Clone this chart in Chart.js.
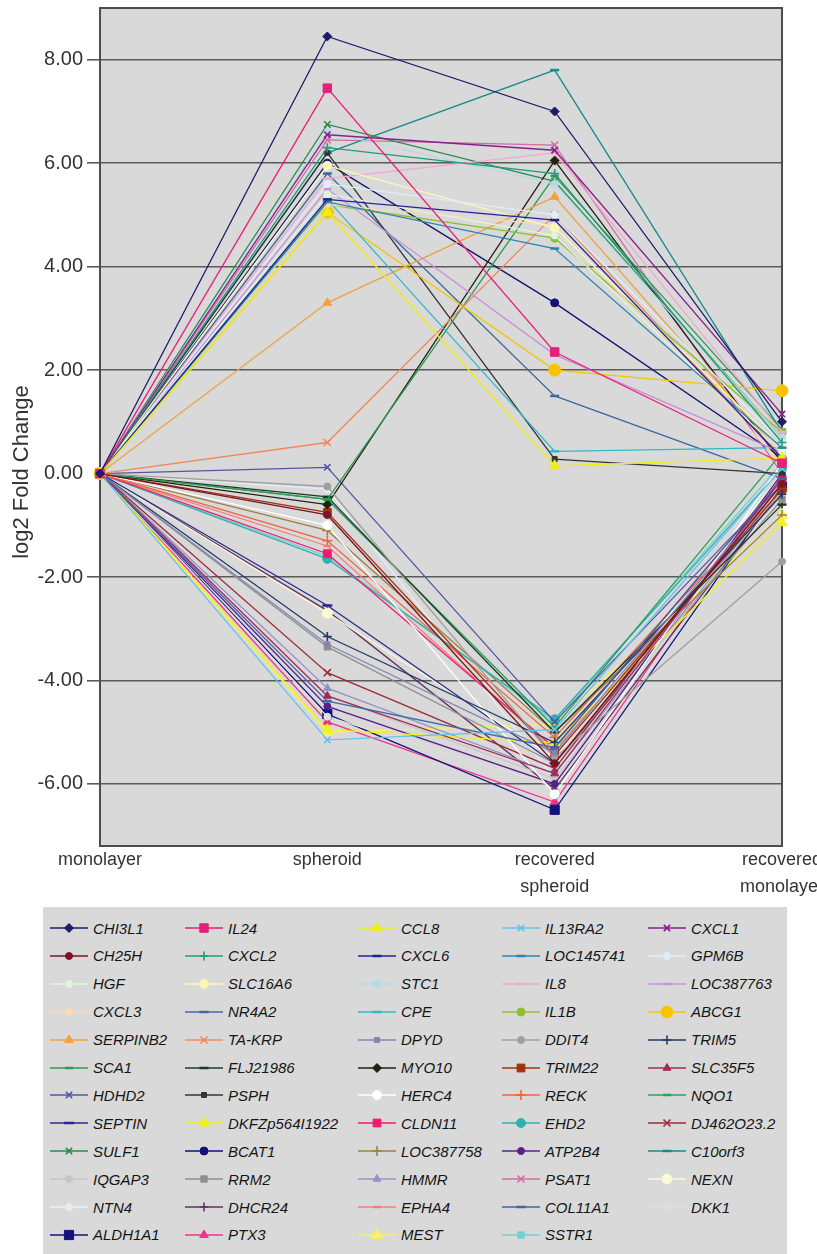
<!DOCTYPE html>
<html>
<head>
<meta charset="utf-8">
<script src="https://cdn.jsdelivr.net/npm/chart.js@4.4.1/dist/chart.umd.min.js"></script>
<style>
  html, body { margin: 0; padding: 0; background: #ffffff; }
  body { width: 817px; height: 1254px; position: relative; overflow: hidden;
         font-family: "Liberation Sans", Arial, Helvetica, sans-serif; }
  #chart { position: absolute; left: 0; top: 0; }
  #legend { position: absolute; left: 43px; top: 907px; width: 744px; height: 352px; background: #d9d9d9; }
  .item { position: absolute; height: 20px; display: flex; align-items: center;
          font-style: italic; font-size: 15px; color: #151515; white-space: nowrap; }
  .item canvas { margin-right: 5px; }
</style>
</head>
<body>
<canvas id="chart" width="817" height="907"></canvas>
<div id="legend"></div>
<script>
// Time points on the x axis
const categories = [['monolayer'], ['spheroid'], ['recovered', 'spheroid'], ['recovered', 'monolayer']];

// Y axis tick values (log2 fold change)
const yTicks = [-6, -4, -2, 0, 2, 4, 6, 8];

// Genes, in legend order (row by row)
const genes = [
  'CHI3L1', 'IL24', 'CCL8', 'IL13RA2', 'CXCL1',
  'CH25H', 'CXCL2', 'CXCL6', 'LOC145741', 'GPM6B',
  'HGF', 'SLC16A6', 'STC1', 'IL8', 'LOC387763',
  'CXCL3', 'NR4A2', 'CPE', 'IL1B', 'ABCG1',
  'SERPINB2', 'TA-KRP', 'DPYD', 'DDIT4', 'TRIM5',
  'SCA1', 'FLJ21986', 'MYO10', 'TRIM22', 'SLC35F5',
  'HDHD2', 'PSPH', 'HERC4', 'RECK', 'NQO1',
  'SEPTIN', 'DKFZp564I1922', 'CLDN11', 'EHD2', 'DJ462O23.2',
  'SULF1', 'BCAT1', 'LOC387758', 'ATP2B4', 'C10orf3',
  'IQGAP3', 'RRM2', 'HMMR', 'PSAT1', 'NEXN',
  'NTN4', 'DHCR24', 'EPHA4', 'COL11A1', 'DKK1',
  'ALDH1A1', 'PTX3', 'MEST', 'SSTR1'
];

// log2 fold change per time point, aligned with genes
const monolayer = [
  0, 0, 0, 0, 0,
  0, 0, 0, 0, 0,
  0, 0, 0, 0, 0,
  0, 0, 0, 0, 0,
  0, 0, 0, 0, 0,
  0, 0, 0, 0, 0,
  0, 0, 0, 0, 0,
  0, 0, 0, 0, 0,
  0, 0, 0, 0, 0,
  0, 0, 0, 0, 0,
  0, 0, 0, 0, 0,
  0, 0, 0, 0
];
const spheroid = [
  8.45, 7.45, 5.05, -5.15, 6.55,
  -0.8, 6.3, 5.3, 5.25, 5.6,
  5.4, 5.95, 6.6, 5.7, 5.5,
  5.2, -4.4, 5.3, 5.2, 5.05,
  3.3, 0.6, -3.3, -0.25, -3.15,
  -0.5, -0.45, -0.6, -0.75, -4.3,
  0.12, 6.2, -1.0, -1.3, -0.5,
  -2.55, -4.95, -1.55, -1.65, -3.85,
  6.75, 6.0, -1.1, -4.5, 6.2,
  -4.3, -3.35, -4.15, 6.45, -2.7,
  -0.3, -2.65, -1.4, 5.8, -4.7,
  -4.65, -4.8, -5.0, -1.6
];
const recoveredSpheroid = [
  7.0, 2.35, 0.15, -4.95, 6.25,
  -5.6, 5.8, 4.9, 4.35, 5.0,
  4.6, 4.75, 5.6, 6.2, 2.3,
  4.8, -5.3, 0.43, 4.55, 2.0,
  5.35, 5.0, -5.4, -5.5, -5.2,
  5.75, -5.0, 6.05, -5.45, -5.8,
  -4.8, 0.28, -6.2, -5.1, -4.9,
  -5.6, -5.2, -5.3, -4.75, -5.7,
  5.65, 3.3, -5.0, -6.0, 7.8,
  -5.9, -5.6, -5.8, 6.35, -5.5,
  -5.9, -6.1, -5.35, 1.5, -6.05,
  -6.5, -6.35, -4.85, -4.8
];
const recoveredMonolayer = [
  1.0, 0.2, 0.3, 0.1, 1.15,
  -0.2, 0.6, 0.3, 0.5, 0.6,
  0.4, 0.5, 0.7, 0.8, 0.4,
  0.2, -0.1, 0.5, 0.8, 1.6,
  0.35, 0.3, -0.2, -1.7, -0.4,
  0.85, -0.6, 0.2, -0.3, -0.1,
  -0.2, 0.0, 0.2, -0.3, 0.4,
  -0.2, -0.95, -0.1, 0.1, -0.1,
  0.7, 0.3, -0.8, 0.0, 0.8,
  -0.3, -0.5, -0.3, 0.0, 0.0,
  -0.1, -0.3, -0.4, -0.1, -0.2,
  -0.25, -0.05, -0.8, 0.2
];

// Series styling, aligned with genes
const lineColors = [
  '#1c1c6b', '#e8207a', '#eeee10', '#62c3ea', '#8a1f8a',
  '#7b1426', '#1e9c7c', '#232390', '#2a86b0', '#dfeef8',
  '#e2f3dc', '#fbf6b4', '#b3dbe8', '#f2a6d0', '#c88fd8',
  '#f7d9b6', '#4565a8', '#2fb8c6', '#8fbf2f', '#f6c500',
  '#f0a23e', '#f2875a', '#8585b3', '#9f9f9f', '#1f3a62',
  '#2f9a52', '#1b3b22', '#232010', '#a3320f', '#a2295a',
  '#5555a3', '#333333', '#ffffff', '#f26242', '#2f9f5f',
  '#28288f', '#f2f216', '#ef1a72', '#2fb1b1', '#9e2a3a',
  '#2a8a4c', '#121272', '#a17f42', '#5a1f8c', '#1b8a8a',
  '#c6c6c6', '#8f8f8f', '#9393c8', '#d06ea2', '#fafad6',
  '#e8edf5', '#633263', '#f08272', '#3a68a0', '#dedede',
  '#12127e', '#f03288', '#f7f066', '#74d0d2'
];
const markerStyles = [
  'rectRot', 'rect', 'triangle', 'crossRot', 'crossRot',
  'circle', 'cross', 'line', 'line', 'circle',
  'circle', 'circle', 'circle', 'line', 'line',
  'circle', 'line', 'line', 'circle', 'circle',
  'triangle', 'crossRot', 'rect', 'circle', 'cross',
  'line', 'line', 'rectRot', 'rect', 'triangle',
  'crossRot', 'rect', 'circle', 'cross', 'line',
  'line', 'triangle', 'rect', 'circle', 'crossRot',
  'crossRot', 'circle', 'cross', 'circle', 'line',
  'circle', 'rect', 'triangle', 'crossRot', 'circle',
  'circle', 'cross', 'line', 'line', 'circle',
  'rect', 'triangle', 'triangle', 'rect'
];
const markerSizes = [
  4.5, 6, 6, 4.5, 4.5,
  3.5, 4.5, 4.5, 4.5, 3.5,
  3.5, 4.5, 3.5, 4.5, 4,
  3.5, 4.5, 4.5, 4, 6,
  5, 5, 3.5, 3.5, 4.5,
  4, 4.5, 4.5, 5.5, 4.5,
  4.5, 3.5, 4.5, 5, 4,
  5, 6, 5.5, 4.5, 5,
  4.5, 4, 5, 3.5, 4.5,
  3.5, 4.5, 4.5, 5, 5,
  3.5, 4.5, 4, 4.5, 3.5,
  6.5, 5, 6.5, 4.5
];

function markerBorder(style) {
  if (style === 'line') return 2.5;
  if (style === 'cross' || style === 'crossRot') return 1.6;
  return 1;
}

const datasets = genes.map((g, i) => ({
  label: g,
  data: [monolayer[i], spheroid[i], recoveredSpheroid[i], recoveredMonolayer[i]],
  borderColor: lineColors[i],
  backgroundColor: lineColors[i],
  borderWidth: 1.3,
  tension: 0,
  pointStyle: markerStyles[i],
  pointRadius: markerSizes[i],
  pointBackgroundColor: lineColors[i],
  pointBorderColor: lineColors[i],
  pointBorderWidth: markerBorder(markerStyles[i])
}));

// Grey plot background, frame and rotated y-axis title
const plotFrame = {
  id: 'plotFrame',
  beforeDraw(chart) {
    const { ctx, chartArea: a } = chart;
    ctx.save();
    ctx.fillStyle = '#d9d9d9';
    ctx.fillRect(a.left, a.top, a.right - a.left, a.bottom - a.top);
    ctx.restore();
  },
  beforeDatasetsDraw(chart) {
    const { ctx, chartArea: a } = chart;
    ctx.save();
    ctx.strokeStyle = '#4d4d4d';
    ctx.lineWidth = 2;
    ctx.strokeRect(a.left, a.top, a.right - a.left, a.bottom - a.top);
    ctx.restore();
  },
  afterDraw(chart) {
    const { ctx } = chart;
    ctx.save();
    ctx.translate(22, 472);
    ctx.rotate(-Math.PI / 2);
    ctx.fillStyle = '#333333';
    ctx.font = '22px "Liberation Sans", Arial, sans-serif';
    ctx.textAlign = 'center';
    ctx.textBaseline = 'middle';
    ctx.fillText('log2 Fold Change', 0, 0);
    ctx.restore();
  }
};

const chart = new Chart(document.getElementById('chart'), {
  type: 'line',
  data: { labels: categories, datasets: datasets },
  plugins: [plotFrame],
  options: {
    responsive: false,
    animation: false,
    devicePixelRatio: 1,
    layout: { padding: { top: 8, right: 35, left: 0, bottom: 0 } },
    plugins: { legend: { display: false }, tooltip: { enabled: false } },
    scales: {
      x: {
        offset: false,
        grid: { display: false },
        border: { display: false },
        ticks: {
          autoSkip: false, maxRotation: 0, minRotation: 0, padding: -7,
          color: '#333333',
          font: { family: '"Liberation Sans", Arial, sans-serif', size: 18, lineHeight: 1.5 }
        },
        afterFit(scale) { scale.height = 61; scale.paddingLeft = 0; scale.paddingRight = 0; }
      },
      y: {
        min: -7.2,
        max: 9,
        afterBuildTicks(scale) { scale.ticks = yTicks.map(v => ({ value: v })); },
        grid: {
          color: ctx => (ctx.tick && ctx.tick.value === 0) ? 'rgba(0,0,0,0)' : '#5a5a5a',
          lineWidth: 1.6,
          tickLength: 13,
          drawOnChartArea: true
        },
        border: { display: false },
        ticks: {
          padding: 4,
          color: '#333333',
          font: { family: '"Liberation Sans", Arial, sans-serif', size: 20 },
          callback: v => Number(v).toFixed(2)
        },
        afterFit(scale) { scale.width = 100; scale.paddingTop = 0; scale.paddingBottom = 0; }
      }
    }
  }
});

// Legend in a fixed grid of five columns
const legendColumnX = [7, 142, 315, 459, 605];
const legendRowPitch = 27.9;
const legendEl = document.getElementById('legend');
chart.data.datasets.forEach((ds, i) => {
  const col = i % 5, row = Math.floor(i / 5);
  const item = document.createElement('div');
  item.className = 'item';
  item.style.left = legendColumnX[col] + 'px';
  item.style.top = (11 + row * legendRowPitch) + 'px';
  const c = document.createElement('canvas');
  c.width = 38; c.height = 20;
  const g = c.getContext('2d');
  g.strokeStyle = ds.borderColor;
  g.fillStyle = ds.borderColor;
  g.lineWidth = 1.6;
  g.beginPath(); g.moveTo(0, 10); g.lineTo(38, 10); g.stroke();
  g.lineWidth = ds.pointBorderWidth;
  if (Chart.helpers && Chart.helpers.drawPoint) {
    Chart.helpers.drawPoint(g, { pointStyle: ds.pointStyle, radius: ds.pointRadius, rotation: 0, borderWidth: ds.pointBorderWidth }, 19, 10);
  } else {
    g.beginPath(); g.arc(19, 10, ds.pointRadius, 0, Math.PI * 2); g.fill();
  }
  const t = document.createElement('span');
  t.textContent = ds.label;
  item.appendChild(c);
  item.appendChild(t);
  legendEl.appendChild(item);
});
</script>
</body>
</html>
